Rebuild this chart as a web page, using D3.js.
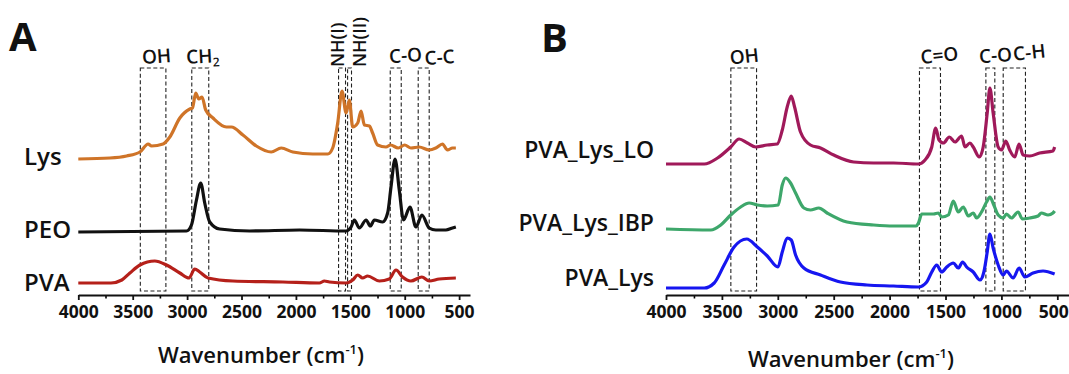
<!DOCTYPE html>
<html>
<head>
<meta charset="utf-8">
<script src="https://cdn.jsdelivr.net/npm/d3@7"></script>
<style>
  body { margin: 0; background: #fff; }
  text { font-family: "Open Sans", sans-serif; fill: #111; }
</style>
</head>
<body>
<div id="chart"></div>
<script>
// ---- data (wavenumber cm-1, intensity a.u. incl. stacking offset) ----
var wnLys  = [4000,3709,3556,3434,3358,3327,3221,3159,3067,2975,2951,2921,2893,2863,2829,2762,2639,2593,2487,2364,2227,2135,2028,1845,1707,1662,1616,1576,1539,1509,1478,1432,1401,1371,1325,1295,1249,1172,1130,1060,1000,943,867,775,714,653,607,561,530];
var valLys = [136,137,139,143,151,149,151,158,177,186,187,202,196,198,185,177,168,168,160,149,143,147,143,141,141,147,172,204,182,195,168,172,184,170,169,162,150,148,150,147,150,147,148,145,147,151,145,147,147];

var wnPEO  = [4000,3006,2960,2914,2875,2838,2792,2701,2425,1967,1539,1493,1463,1417,1355,1316,1279,1203,1157,1126,1089,1050,1011,952,897,842,775,714,622,561,530];
var valPEO = [63,64,70,95,112,92,73,66,64,65,64,68,75,67,75,69,75,73,82,108,136,105,75,88,68,80,67,65,65,67,68];

var wnPVA  = [4000,3700,3600,3526,3434,3297,3189,3067,2982,2930,2884,2808,2579,2120,1784,1738,1692,1539,1478,1432,1387,1341,1233,1142,1080,1020,943,842,775,683,530];
var valPVA = [12,12,15,22,30,34,30,22,17,26,23,17,14,13,12,14,13,12,15,20,17,19,14,16,25,18,14,18,14,16,17];

var wnLO  = [4000,3658,3539,3421,3346,3272,3198,3094,3005,2960,2916,2880,2850,2797,2708,2618,2500,2321,2143,1965,1742,1683,1623,1588,1558,1519,1466,1415,1356,1326,1282,1252,1198,1163,1127,1103,1074,1029,999,961,926,881,842,806,747,658,539,524];
var valLO = [131,131,137,148,156,152,148,150,151,165,188,199,188,163,150,147,140,133,132,132,131,135,148,167,155,152,158,153,159,148,152,148,138,148,182,207,182,148,145,154,145,138,151,140,139,142,144,148];

var wnIBP  = [4000,3599,3510,3421,3332,3257,3183,3094,2996,2960,2930,2886,2841,2767,2708,2633,2559,2381,2143,1965,1763,1742,1712,1608,1564,1534,1475,1430,1386,1341,1296,1252,1222,1178,1133,1103,1068,1029,984,955,910,851,812,747,672,643,583,539,524];
var valIBP = [66,65,70,80,88,92,90,89,90,110,117,112,102,87,85,87,82,73,70,69,69,72,81,81,82,78,80,94,83,88,79,82,77,83,93,98,90,80,77,81,77,83,76,77,79,82,80,82,84];

var wnPL  = [4000,3658,3569,3480,3391,3278,3183,3094,2999,2960,2916,2880,2841,2767,2618,2440,2203,1965,1742,1668,1623,1579,1534,1489,1430,1386,1347,1311,1252,1192,1157,1127,1103,1074,1029,984,955,895,842,791,717,628,524];
var valPL = [7,7,12,30,48,56,48,39,28,43,57,55,40,27,20,13,10,9,8,13,23,30,23,28,32,27,33,28,23,15,23,43,61,47,30,20,24,17,27,18,22,24,21];

var majorTicks = [4000,3500,3000,2500,2000,1500,1000,500];
var minorTicks = [3750,3250,2750,2250,1750,1250,750];

// band regions [label, from, to]
var bandsA = [["OH",3430,3195],["CH2",2957,2801],["NH(I)",1608,1544],["NH(II)",1525,1489],["C-O",1133,1032],["C-C",876,775]];
var bandsB = [["OH",3420,3190],["C=O",1733,1545],["C-O",1139,1059],["C-H",984,785]];

// ---- layout ----
var W = 1069, H = 374, axisY = 295, boxTop = 68, boxBottom = 291;

var svg = d3.select("#chart").append("svg")
    .attr("width", W)
    .attr("height", H);

var y = d3.scaleLinear().domain([0, 270]).range([axisY, axisY - 270]);

function zip(wn, v) {
    return wn.map(function (d, i) { return { wn: d, v: v[i] }; });
}

function panel(x, series, bands) {
    var g = svg.append("g");
    var line = d3.line()
        .x(function (d) { return x(d.wn); })
        .y(function (d) { return y(d.v); })
        .curve(d3.curveMonotoneX);

    // dashed band boxes
    g.selectAll("rect.band")
        .data(bands)
        .enter()
        .append("rect")
        .attr("x", function (d) { return x(d[1]); })
        .attr("width", function (d) { return x(d[2]) - x(d[1]); })
        .attr("y", boxTop)
        .attr("height", boxBottom - boxTop)
        .style("fill", "none")
        .style("stroke", "#222")
        .style("stroke-width", 1.1)
        .style("stroke-dasharray", "4,2.5");

    g.selectAll("path.spec")
        .data(series)
        .enter()
        .append("path")
        .attr("d", function (d) { return line(d.values); })
        .style("fill", "none")
        .style("stroke", function (d) { return d.color; })
        .style("stroke-width", 3.2)
        .style("stroke-linejoin", "round");

    // axis: minor then major ticks
    g.append("g")
        .attr("transform", "translate(0," + axisY + ")")
        .call(d3.axisBottom(x).tickValues(minorTicks).tickSize(3.5).tickFormat(""))
        .call(function (a) { a.select(".domain").remove(); a.selectAll("line").style("stroke-width", 1.6); });
    var ax = g.append("g")
        .attr("transform", "translate(0," + axisY + ")")
        .call(d3.axisBottom(x).tickValues(majorTicks).tickSize(5).tickSizeOuter(0).tickPadding(6).tickFormat(d3.format("d")));
    ax.select(".domain").style("stroke-width", 2.2).style("stroke", "#111");
    ax.selectAll("line").style("stroke-width", 1.8).style("stroke", "#111");
    ax.selectAll("text")
        .style("font-size", "17.5px")
        .style("font-weight", 700)
        .style("font-family", "'Open Sans', sans-serif")
        .style("fill", "#111");
    return ax;
}

// ---- panel A ----
var xA = d3.scaleLinear().domain([4000, 400]).range([78.3, 470]);
panel(xA, [
    { name: "Lys", color: "#cf7428", values: zip(wnLys, valLys) },
    { name: "PEO", color: "#111111", values: zip(wnPEO, valPEO) },
    { name: "PVA", color: "#b5201a", values: zip(wnPVA, valPVA) }
], bandsA);

// ---- panel B ----
var xB = d3.scaleLinear().domain([4000, 400]).range([666, 1068.5]);
var axB = panel(xB, [
    { name: "PVA_Lys_LO", color: "#a0195a", values: zip(wnLO, valLO) },
    { name: "PVA_Lys_IBP", color: "#3ea76b", values: zip(wnIBP, valIBP) },
    { name: "PVA_Lys", color: "#1616f0", values: zip(wnPL, valPL) }
], bandsB);
// keep the last label inside the page edge
axB.selectAll("text").filter(function (d) { return d === 500; }).attr("dx", -4);

// panel letters
svg.append("text").attr("x", 9).attr("y", 51).text("A")
    .style("font-size", "40px").style("font-weight", 700);
svg.append("text").attr("x", 541).attr("y", 52).text("B")
    .style("font-size", "40px").style("font-weight", 700);

// series labels
var labA = [["Lys", 165], ["PEO", 238], ["PVA", 291]];
svg.selectAll("text.labA").data(labA).enter().append("text")
    .attr("x", 24).attr("y", function (d) { return d[1]; })
    .text(function (d) { return d[0]; })
    .style("font-size", "24px").style("font-weight", 600);

var labB = [["PVA_Lys_LO", 158], ["PVA_Lys_IBP", 231], ["PVA_Lys", 286]];
svg.selectAll("text.labB").data(labB).enter().append("text")
    .attr("x", 654).attr("y", function (d) { return d[1]; })
    .attr("text-anchor", "end")
    .text(function (d) { return d[0]; })
    .style("font-size", "23px").style("font-weight", 600);

// band labels
function bandLabel(x, y, txt, rot) {
    return svg.append("text")
        .attr("transform", "translate(" + x + "," + y + ") rotate(" + rot + ")")
        .attr("text-anchor", "middle")
        .style("font-size", "19px").style("font-weight", 600)
        .text(txt);
}
bandLabel(157, 63, "OH", -4);
var ch = bandLabel(203, 63, "CH", -3);
ch.append("tspan").attr("dy", 4).style("font-size", "12px").text("2");
bandLabel(406, 62, "C-O", -4);
bandLabel(440, 64, "C-C", -4);
bandLabel(745, 63, "OH", -6);
bandLabel(940, 62, "C=O", -6);
bandLabel(996, 62, "C-O", -4);
bandLabel(1030, 59, "C-H", -6);

// rotated NH labels
[["NH(I)", 344, 67], ["NH(II)", 366, 67]].forEach(function (d) {
    svg.append("text")
        .attr("transform", "translate(" + d[1] + "," + d[2] + ") rotate(-90)")
        .style("font-size", "18px").style("font-weight", 600)
        .text(d[0]);
});

// axis titles
[[261, 363], [851, 367]].forEach(function (p) {
    var t = svg.append("text").attr("x", p[0]).attr("y", p[1]).attr("text-anchor", "middle")
        .style("font-size", "22px").style("font-weight", 600)
        .text("Wavenumber (cm");
    t.append("tspan").attr("dy", -9).style("font-size", "13px").text("-1");
    t.append("tspan").attr("dy", 9).text(")");
});
</script>
</body>
</html>
